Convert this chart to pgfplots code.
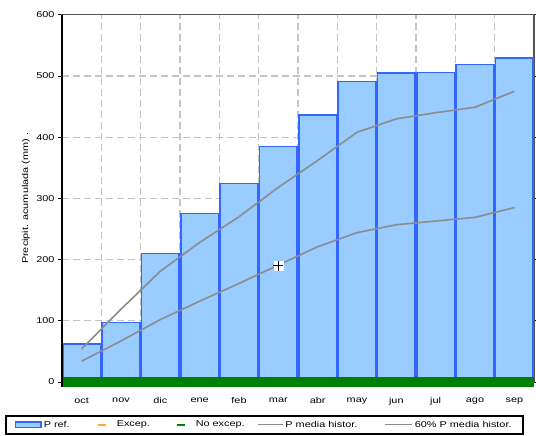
\documentclass[border=0pt]{standalone}
\usepackage{fontspec}
\setmainfont{Liberation Sans}[FakeStretch=1.28]
\usepackage{pgfplots}
\pgfplotsset{compat=1.18}
\definecolor{barfill}{HTML}{99CCFF}
\definecolor{baredge}{HTML}{3366FF}
\definecolor{nogreen}{HTML}{008000}
\definecolor{excorange}{HTML}{FFA833}
\definecolor{histgray}{HTML}{8C8C8C}
\definecolor{gridgray}{HTML}{C4C4C4}
\definecolor{framegray}{HTML}{555555}
\begin{document}
\begin{tikzpicture}[font=\fontsize{8.5}{10}\selectfont]
\path[use as bounding box] (0,0) rectangle (536pt,436pt);
\begin{axis}[
  at={(62pt,54pt)}, anchor=south west,
  scale only axis, width=472pt, height=367.2pt,
  xmin=-0.5, xmax=11.5, ymin=0, ymax=600,
  clip=false,
  xtick={0,...,11},
  xticklabels={oct,nov,dic,ene,feb,mar,abr,may,jun,jul,ago,sep},
  minor xtick={0.5,1.5,...,10.5},
  ytick={0,100,...,600},
  ymajorgrids, xminorgrids,
  major grid style={gridgray, line width=1.3pt, dash pattern=on 7pt off 4pt},
  minor grid style={gridgray, line width=1.3pt, dash pattern=on 7pt off 4pt},
  tick align=outside,
  x tick style={draw=none},
  y tick style={black, line width=0.8pt},
  major tick length=4pt,
  xticklabel style={yshift=-8pt},
  /pgf/number format/assume math mode=true,
  axis line style={draw=framegray, line width=1.2pt},
  ylabel={Precipit. acumulada (mm) .},
  ylabel style={at={(axis description cs:-0.0763,0.5)}, anchor=center},
  legend columns=5,
  legend style={at={(axis description cs:-0.12076,-0.0899)}, anchor=north west,
    draw=black, line width=1.5pt, inner xsep=9pt, inner ysep=5pt,
    nodes={inner sep=0pt},
    /tikz/every even column/.append style={column sep=0pt},
    font=\fontsize{8.5}{10}\selectfont},
  after end axis/.code={\draw[black, line width=2pt] (rel axis cs:0,1) -- (rel axis cs:0,0) -- ++(0pt,-5pt);},
]
\addplot[ybar, bar width=0.96, bar shift=0pt, fill=barfill, draw=baredge, line width=1.5pt,
  legend image code/.code={\path[draw=none, fill=none] (0pt,-4pt) rectangle (27pt,4pt);
    \draw[fill=barfill, draw=baredge, line width=1.5pt] (0.75pt,-2.6pt) rectangle (26.25pt,2.6pt);}]
  coordinates {(0,62) (1,97) (2,210) (3,275) (4,324) (5,385) (6,436) (7,491) (8,505) (9,506) (10,519) (11,529)};
\addlegendentry{\makebox[46pt][l]{\hspace{2pt}P ref.}}
\addlegendimage{legend image code/.code={\path[draw=none, fill=none] (0pt,-4pt) rectangle (27pt,4pt);
    \draw[excorange, line width=1.8pt] (10pt,0pt) -- (18pt,0pt);}}
\addlegendentry{\makebox[52pt][l]{\hspace{2pt}Excep.}}
\addplot[nogreen, line width=10pt,
  legend image code/.code={\path[draw=none, fill=none] (0pt,-4pt) rectangle (27pt,4pt);
    \draw[nogreen, line width=1.8pt] (10pt,0pt) -- (18pt,0pt);}]
  coordinates {(-0.5,0) (11.5,0)};
\addlegendentry{\makebox[62pt][l]{\hspace{2pt}No excep.}}
\addplot[histgray, line width=1.6pt,
  legend image code/.code={\path[draw=none, fill=none] (0pt,-4pt) rectangle (27pt,4pt);
    \draw[histgray, line width=1.4pt] (2pt,0pt) -- (27pt,0pt);}]
  coordinates {(0,54) (1,119) (2,181) (3,228) (4,270) (5,318) (6,362) (7,408) (8,430) (9,440) (10,449) (11,475)};
\addlegendentry{\makebox[101pt][l]{\hspace{2pt}P media histor.}}
\addplot[histgray, line width=1.6pt,
  legend image code/.code={\path[draw=none, fill=none] (0pt,-4pt) rectangle (27pt,4pt);
    \draw[histgray, line width=1.4pt] (0pt,0pt) -- (27pt,0pt);}]
  coordinates {(0,34) (1,67) (2,102) (3,132) (4,161) (5,191) (6,221) (7,244) (8,257) (9,263) (10,269) (11,285)};
\addlegendentry{\makebox[101pt][l]{\hspace{2pt}60\% P media histor.}}
\addplot[white, forget plot, only marks, mark=square*, mark size=4.5pt, mark options={fill=white, draw=white}]
  coordinates {(5,190)};
\addplot[black, forget plot, only marks, mark=+, mark size=5pt, mark options={black, line width=1.5pt}]
  coordinates {(5,190)};
\end{axis}
\end{tikzpicture}
\end{document}
